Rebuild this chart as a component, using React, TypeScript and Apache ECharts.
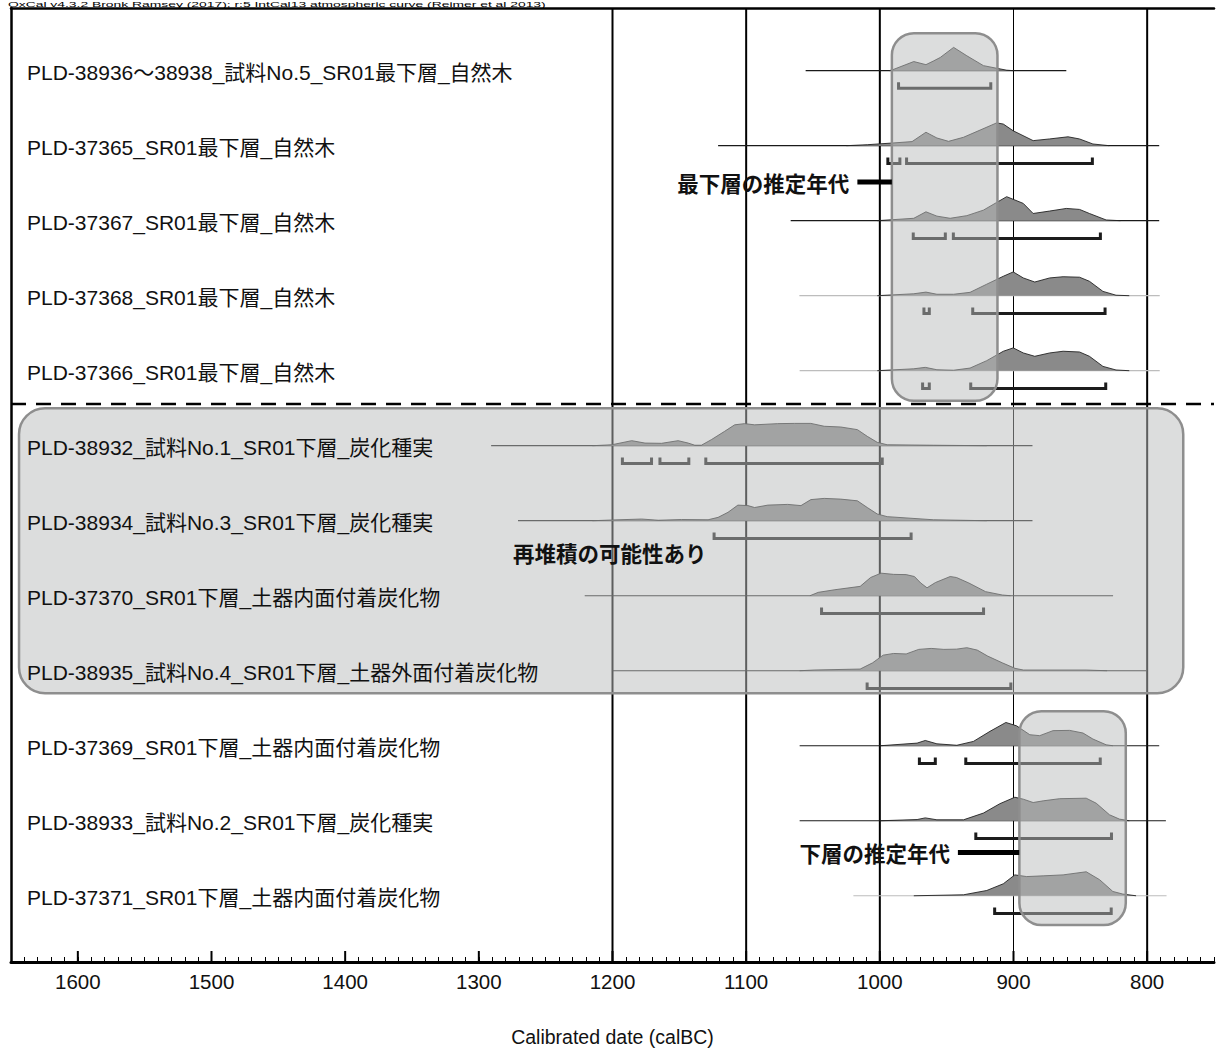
import React, { useEffect, useRef } from 'react';
import * as echarts from 'echarts';

const headerText = 'OxCal v4.3.2 Bronk Ramsey (2017); r:5 IntCal13 atmospheric curve (Reimer et al 2013)';
const axisTitle = 'Calibrated date (calBC)';

const sampleLabels = [
  'PLD-38936〜38938_試料No.5_SR01最下層_自然木',
  'PLD-37365_SR01最下層_自然木',
  'PLD-37367_SR01最下層_自然木',
  'PLD-37368_SR01最下層_自然木',
  'PLD-37366_SR01最下層_自然木',
  'PLD-38932_試料No.1_SR01下層_炭化種実',
  'PLD-38934_試料No.3_SR01下層_炭化種実',
  'PLD-37370_SR01下層_土器内面付着炭化物',
  'PLD-38935_試料No.4_SR01下層_土器外面付着炭化物',
  'PLD-37369_SR01下層_土器内面付着炭化物',
  'PLD-38933_試料No.2_SR01下層_炭化種実',
  'PLD-37371_SR01下層_土器内面付着炭化物',
];

// extent of each row's thin base line (calBC)
const baselineFrom = [1055.5, 1121, 1066.7, 1060.2, 1060, 1290.8, 1270.7, 1220.8, 1200, 1060, 1060, 1019.8];
const baselineTo = [860.5, 791, 791, 790.6, 790.6, 885.8, 885.8, 825.5, 800.7, 791, 786, 785.5];
const baselineTone = ['dark', 'dark', 'dark', 'light', 'light', 'dark', 'dark', 'dark', 'dark', 'dark', 'dark', 'light'];

// relative probability [calBC, density] for each sample
const prob38936 = [[993, 0], [990.8, 0.03], [974.6, 0.38], [965.5, 0.25], [960, 0.4], [954.8, 0.55], [944.8, 0.97], [934.9, 0.62], [922.5, 0.21], [912.6, 0.1], [905.1, 0.02], [900, 0]];
const prob37365 = [[1025, 0], [1009.4, 0.04], [990.8, 0.11], [975.9, 0.17], [965.5, 0.56], [957.3, 0.32], [948.6, 0.18], [937.4, 0.35], [925, 0.65], [912.6, 0.95], [907.6, 0.9], [900.2, 0.62], [885.3, 0.21], [873.1, 0.28], [859.2, 0.37], [850.6, 0.28], [840.6, 0.07], [828.4, 0]];
const prob37367 = [[1001.9, 0], [974.6, 0.1], [965.5, 0.37], [957.3, 0.19], [947.4, 0.1], [934.9, 0.21], [922.5, 0.44], [912.6, 0.76], [905.1, 1.0], [892.7, 0.72], [885.3, 0.3], [873.1, 0.4], [860.5, 0.51], [850.6, 0.47], [843.2, 0.3], [830.7, 0.03], [820, 0]];
const prob37368 = [[1001.9, 0], [974.6, 0.08], [965.5, 0.15], [957.3, 0.06], [944.8, 0.06], [932.5, 0.14], [920, 0.48], [907.6, 0.81], [900.2, 0.99], [892.7, 0.74], [884.1, 0.57], [872.9, 0.74], [862.9, 0.79], [850.6, 0.77], [843.2, 0.6], [833.1, 0.18], [823.3, 0.02], [813.4, 0]];
const prob37366 = [[1001.9, 0], [974.6, 0.08], [966, 0.14], [957.3, 0.04], [944.8, 0.02], [932.5, 0.11], [920, 0.42], [907.6, 0.81], [900.2, 0.95], [892.7, 0.74], [884.1, 0.6], [872.9, 0.74], [862.9, 0.81], [850.6, 0.78], [843.2, 0.6], [833.1, 0.18], [823.3, 0.03], [813.4, 0]];
const prob38932 = [[1215, 0], [1200.5, 0.04], [1185.6, 0.21], [1175.7, 0.11], [1163.3, 0.1], [1150.9, 0.21], [1143.4, 0.11], [1138.4, 0.02], [1133.5, 0.02], [1126.1, 0.25], [1116.1, 0.6], [1108.6, 0.87], [1101.2, 0.92], [1093.7, 0.87], [1076.4, 0.92], [1064, 0.93], [1051.6, 0.93], [1041.6, 0.81], [1029.3, 0.78], [1016.8, 0.67], [1009.4, 0.39], [1001.9, 0.14], [994.5, 0.04], [960, 0.02], [920, 0]];
const prob38934 = [[1215, 0], [1200.5, 0.03], [1178.2, 0.07], [1165.7, 0.02], [1148.4, 0.05], [1128.5, 0.04], [1121, 0.14], [1113.6, 0.35], [1106.2, 0.65], [1098.7, 0.63], [1093.7, 0.55], [1083.8, 0.65], [1068.9, 0.68], [1059, 0.63], [1051.6, 0.88], [1041.6, 0.93], [1029.3, 0.9], [1016.8, 0.83], [1009.4, 0.55], [1001.9, 0.28], [994.5, 0.17], [960, 0.04], [920, 0]];
const prob37370 = [[1052.3, 0], [1046.1, 0.14], [1033.6, 0.25], [1014.7, 0.39], [1006.9, 0.76], [999.1, 0.94], [989.7, 0.89], [980.3, 0.88], [974.1, 0.8], [969.4, 0.53], [964.7, 0.33], [958.4, 0.55], [947.4, 0.8], [942.7, 0.76], [933.4, 0.53], [920.9, 0.17], [908.4, 0.03], [902.2, 0]];
const prob38935 = [[1060, 0], [1049.2, 0.03], [1014.7, 0.07], [1005.4, 0.33], [997.5, 0.65], [989.7, 0.72], [980.3, 0.7], [970.9, 0.89], [961.6, 0.93], [952.1, 0.89], [942.7, 0.9], [934.9, 0.96], [927.1, 0.86], [919.3, 0.61], [908.4, 0.33], [898.9, 0.1], [892.6, 0.03], [845.7, 0.03], [830, 0]];
const prob37369 = [[999.5, 0], [972.1, 0.11], [966, 0.22], [957.3, 0.08], [942.4, 0.02], [930, 0.18], [917.6, 0.6], [905.7, 0.97], [897.7, 0.83], [887.8, 0.46], [880.4, 0.42], [870.4, 0.63], [858, 0.64], [848, 0.53], [840.6, 0.28], [830.7, 0.04], [825.7, 0]];
const prob38933 = [[999.5, 0], [972.1, 0.05], [966, 0.12], [957.3, 0.04], [937.4, 0.04], [922.5, 0.32], [910.2, 0.71], [899, 0.98], [892.7, 0.9], [885.3, 0.76], [877.8, 0.83], [865.4, 0.92], [845.6, 0.94], [838.1, 0.73], [828.2, 0.25], [820.8, 0.07], [813.4, 0]];
const prob37371 = [[974.6, 0], [937.4, 0.04], [920, 0.22], [907.6, 0.5], [899, 0.87], [890.2, 0.8], [877.8, 0.83], [862.9, 0.87], [845.6, 1.0], [835.6, 0.67], [825.7, 0.18], [818.2, 0.07], [808.3, 0]];

const distributions = [prob38936, prob37365, prob37367, prob37368, prob37366, prob38932, prob38934, prob37370, prob38935, prob37369, prob38933, prob37371];

// 95.4% ranges: row, from, to (calBC)
const rangeRow = [1, 2, 2, 3, 3, 4, 4, 5, 5, 6, 6, 6, 7, 8, 9, 10, 10, 11, 12];
const rangeFrom = [986, 994, 980, 975, 945, 967, 930.5, 968, 932, 1192.6, 1164.5, 1130.2, 1124, 1043.6, 1009.5, 970.4, 935.7, 928.2, 914.1];
const rangeTo = [917, 985, 841, 951, 835, 963, 831.5, 963, 831, 1170.8, 1142.9, 998.2, 976.6, 922.4, 902, 958.5, 835.1, 826.7, 826.9];

// reference year lines
const refYears = [1200, 1100, 1000, 900, 800];
const refWeight = ['heavy', 'heavy', 'heavy', 'thin', 'heavy'];
const majorYears = [1600, 1500, 1400, 1300, 1200, 1100, 1000, 900, 800];

// highlighted spans
const boxYearFrom = [991, 1644, 895.6];
const boxYearTo = [912, 773, 816];
const boxRowFrom = [0.5, 5.5, 9.54];
const boxRowTo = [5.4, 9.3, 12.39];

// estimated-age notes
const noteText = ['最下層の推定年代', '下層の推定年代'];
const noteBarFrom = [1016.8, 941.6];
const noteBarTo = [991, 895.7];
const noteRow = [2.485, 11.424];
const redepositText = '再堆積の可能性あり';
const redepositYear = 1202;
const redepositRow = 7.43;

const separatorRow = 5.443;

const X_MIN = 750;
const X_MAX = 1650;
const Y_MIN = 0.1645;
const Y_MAX = 12.883;
const PEAK_PX = 24;

const LABEL_FONT = '"Liberation Sans", "Noto Sans CJK JP", sans-serif';
const CJK_FONT = '"Noto Sans CJK JP", sans-serif';

export default function App() {
  const ref = useRef<HTMLDivElement>(null);

  useEffect(() => {
    if (!ref.current) return;
    const chart = echarts.init(ref.current, null, { renderer: 'svg' });

    const option: any = {
      animation: false,
      backgroundColor: '#ffffff',
      grid: { left: 11, top: 8, width: 1209, height: 959, containLabel: false },
      graphic: [
        {
          type: 'text',
          x: 8,
          y: 0,
          scaleX: 1.85,
          style: { text: headerText, fontSize: 7.5, fontFamily: '"Liberation Sans", sans-serif', fill: '#000', verticalAlign: 'top', align: 'left' },
        },
      ],
      xAxis: [
        {
          type: 'value',
          min: X_MIN,
          max: X_MAX,
          interval: 10,
          inverse: true,
          position: 'bottom',
          axisLine: { show: true, onZero: false, lineStyle: { color: '#000', width: 3 } },
          axisTick: { show: true, inside: true, length: 5, lineStyle: { color: '#000', width: 1 } },
          axisLabel: {
            formatter: (v: number) => (v % 100 === 0 ? String(v) : ''),
            fontSize: 20.5,
            fontFamily: '"Liberation Sans", sans-serif',
            color: '#111',
            margin: 9,
          },
          splitLine: { show: false },
          name: axisTitle,
          nameLocation: 'middle',
          nameGap: 65,
          nameTextStyle: { fontSize: 19.5, fontFamily: '"Liberation Sans", sans-serif', color: '#111' },
        },
        {
          type: 'value',
          min: X_MIN,
          max: X_MAX,
          inverse: true,
          position: 'top',
          axisLine: { show: true, onZero: false, lineStyle: { color: '#000', width: 2.5 } },
          axisTick: { show: false },
          axisLabel: { show: false },
          splitLine: { show: false },
        },
      ],
      yAxis: {
        type: 'value',
        min: Y_MIN,
        max: Y_MAX,
        inverse: true,
        axisLine: { show: true, onZero: false, lineStyle: { color: '#000', width: 2.5 } },
        axisTick: { show: false },
        axisLabel: { show: false },
        splitLine: { show: false },
      },
      series: [
        {
          type: 'custom',
          name: 'refLines',
          z: 1,
          clip: false,
          data: refYears.map((y) => [y, Y_MIN]),
          renderItem: (params: any, api: any) => {
            const i = params.dataIndex;
            const a = api.coord([refYears[i], Y_MIN]);
            const b = api.coord([refYears[i], Y_MAX]);
            return {
              type: 'line',
              shape: { x1: a[0], y1: a[1], x2: b[0], y2: b[1] },
              style: { stroke: '#000', lineWidth: refWeight[i] === 'heavy' ? 2 : 1 },
            };
          },
        },
        {
          type: 'custom',
          name: 'separator',
          z: 1,
          clip: false,
          data: [[X_MAX, separatorRow]],
          renderItem: (params: any, api: any) => {
            const a = api.coord([X_MAX, separatorRow]);
            const b = api.coord([X_MIN, separatorRow]);
            return {
              type: 'line',
              shape: { x1: a[0], y1: a[1], x2: b[0], y2: b[1] },
              style: { stroke: '#000', lineWidth: 2.5, lineDash: [15, 10] },
            };
          },
        },
        {
          type: 'custom',
          name: 'distributions',
          z: 2,
          clip: false,
          data: baselineFrom.map((v, i) => [v, i + 1]),
          renderItem: (params: any, api: any) => {
            const i = params.dataIndex;
            const row = i + 1;
            const d = distributions[i];
            const b0 = api.coord([baselineFrom[i], row]);
            const b1 = api.coord([baselineTo[i], row]);
            const pts = d.map(([yr, p]) => {
              const c = api.coord([yr, row]);
              return [c[0], c[1] - p * PEAK_PX];
            });
            const p0 = api.coord([d[0][0], row]);
            const p1 = api.coord([d[d.length - 1][0], row]);
            return {
              type: 'group',
              children: [
                {
                  type: 'line',
                  shape: { x1: b0[0], y1: b0[1], x2: b1[0], y2: b1[1] },
                  style: { stroke: baselineTone[i] === 'dark' ? '#1a1a1a' : '#bdbdbd', lineWidth: 1.2 },
                },
                {
                  type: 'polygon',
                  shape: { points: [p0, ...pts, p1] },
                  style: { fill: '#8a8a8a', stroke: null },
                },
                {
                  type: 'polyline',
                  shape: { points: pts },
                  style: { stroke: '#222', lineWidth: 0.9, fill: null },
                },
              ],
            };
          },
        },
        {
          type: 'custom',
          name: 'ranges',
          z: 3,
          clip: false,
          data: rangeFrom.map((v, i) => [v, rangeRow[i]]),
          renderItem: (params: any, api: any) => {
            const i = params.dataIndex;
            const a = api.coord([rangeFrom[i], rangeRow[i]]);
            const b = api.coord([rangeTo[i], rangeRow[i]]);
            const y = a[1] + 17.7;
            return {
              type: 'polyline',
              shape: { points: [[a[0], y - 6], [a[0], y], [b[0], y], [b[0], y - 6]] },
              style: { stroke: '#1c1c1c', lineWidth: 3, fill: null, lineJoin: 'miter' },
            };
          },
        },
        {
          type: 'custom',
          name: 'majorTicks',
          z: 3,
          clip: false,
          data: majorYears.map((y) => [y, Y_MAX]),
          renderItem: (params: any, api: any) => {
            const a = api.coord([majorYears[params.dataIndex], Y_MAX]);
            return {
              type: 'line',
              shape: { x1: a[0], y1: a[1], x2: a[0], y2: a[1] - 11 },
              style: { stroke: '#000', lineWidth: 2 },
            };
          },
        },
        {
          type: 'custom',
          name: 'boxes',
          z: 5,
          clip: false,
          data: boxYearFrom.map((v, i) => [v, boxRowFrom[i]]),
          renderItem: (params: any, api: any) => {
            const i = params.dataIndex;
            const a = api.coord([boxYearFrom[i], boxRowFrom[i]]);
            const b = api.coord([boxYearTo[i], boxRowTo[i]]);
            const x = Math.min(a[0], b[0]);
            const y = Math.min(a[1], b[1]);
            return {
              type: 'rect',
              shape: { x, y, width: Math.abs(b[0] - a[0]), height: Math.abs(b[1] - a[1]), r: i === 1 ? 26 : 22 },
              style: { fill: 'rgba(185,187,187,0.5)', stroke: '#8e8e8e', lineWidth: 2.5 },
            };
          },
        },
        {
          type: 'custom',
          name: 'labels',
          z: 8,
          clip: false,
          data: sampleLabels.map((s, i) => [X_MAX, i + 1]),
          renderItem: (params: any, api: any) => {
            const i = params.dataIndex;
            const c = api.coord([X_MAX, i + 1]);
            return {
              type: 'text',
              x: c[0] + 16,
              y: c[1] + 1.5,
              style: {
                text: sampleLabels[i],
                fontSize: 21,
                fontFamily: LABEL_FONT,
                fill: '#111',
                align: 'left',
                verticalAlign: 'middle',
              },
            };
          },
        },
        {
          type: 'custom',
          name: 'notes',
          z: 8,
          clip: false,
          data: noteText.map((t, i) => [noteBarFrom[i], noteRow[i]]),
          renderItem: (params: any, api: any) => {
            const i = params.dataIndex;
            const a = api.coord([noteBarFrom[i], noteRow[i]]);
            const b = api.coord([noteBarTo[i], noteRow[i]]);
            return {
              type: 'group',
              children: [
                {
                  type: 'line',
                  shape: { x1: a[0], y1: a[1], x2: b[0], y2: b[1] },
                  style: { stroke: '#000', lineWidth: 5 },
                },
                {
                  type: 'text',
                  x: a[0] - 8,
                  y: a[1],
                  style: {
                    text: noteText[i],
                    fontSize: 21.5,
                    fontWeight: 'bold',
                    fontFamily: CJK_FONT,
                    fill: '#111',
                    align: 'right',
                    verticalAlign: 'middle',
                  },
                },
              ],
            };
          },
        },
        {
          type: 'custom',
          name: 'redeposit',
          z: 8,
          clip: false,
          data: [[redepositYear, redepositRow]],
          renderItem: (params: any, api: any) => {
            const c = api.coord([redepositYear, redepositRow]);
            return {
              type: 'text',
              x: c[0],
              y: c[1],
              style: {
                text: redepositText,
                fontSize: 21.5,
                fontWeight: 'bold',
                fontFamily: CJK_FONT,
                fill: '#111',
                align: 'center',
                verticalAlign: 'middle',
              },
            };
          },
        },
      ],
    };

    chart.setOption(option);
    return () => chart.dispose();
  }, []);

  return <div ref={ref} style={{ position: 'absolute', left: 0, top: 0, width: 1217, height: 1052 }} />;
}
